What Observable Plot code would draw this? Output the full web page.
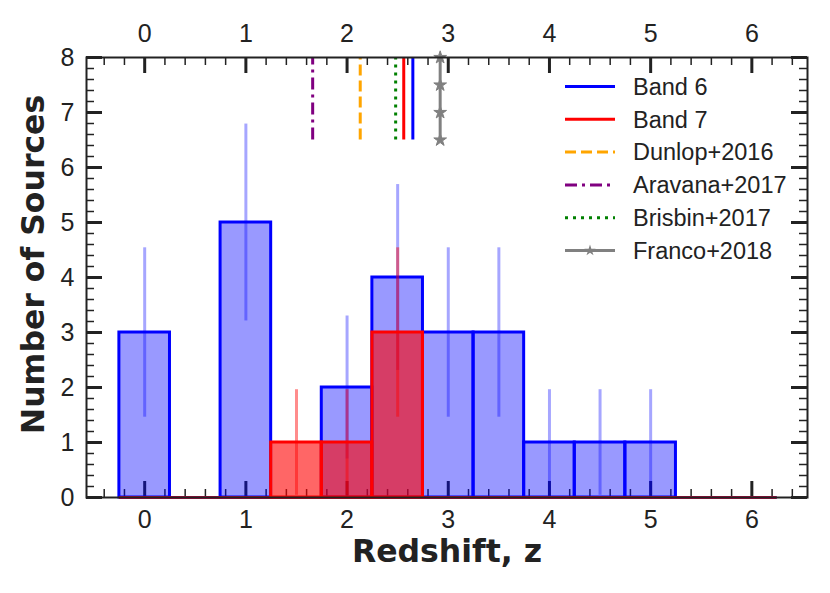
<!DOCTYPE html>
<html>
<head>
<meta charset="utf-8">
<script src="https://cdn.jsdelivr.net/npm/d3@7"></script>
<script src="https://cdn.jsdelivr.net/npm/@observablehq/plot@0.6"></script>
<style>
  html, body { margin: 0; padding: 0; background: #fff; }
  #wrap { position: relative; width: 830px; height: 593px; }
  #legend { position: absolute; left: 0; top: 0; pointer-events: none; }
</style>
</head>
<body>
<div id="wrap"></div>
<script>
// ---- data ----
const binCenters = [0, 0.5, 1, 1.5, 2, 2.5, 3, 3.5, 4, 4.5, 5, 5.5, 6];
const binWidth = 0.5;
const band6Counts = [3, 0, 5, 0, 2, 4, 3, 3, 1, 1, 1, 0, 0];
const band6Err    = [1.54, 0, 1.79, 0, 1.3, 1.69, 1.54, 1.54, 0.96, 0.96, 0.96, 0, 0];
const band7Counts = [0, 0, 0, 1, 1, 3, 0, 0, 0, 0, 0, 0, 0];
const band7Err    = [0, 0, 0, 0.96, 0.96, 1.54, 0, 0, 0, 0, 0, 0, 0];

const medianNames  = ["Band 6", "Band 7", "Dunlop+2016", "Aravana+2017", "Brisbin+2017", "Franco+2018"];
const medianZ      = [2.65, 2.56, 2.13, 1.66, 2.48, 2.92];
const medianColors = ["#0000ff", "#ff0000", "#ffa500", "#800080", "#008000", "#808080"];
const medianDash   = [null, null, "11,5", "12,5,3,5", "3,5", null];
const medianTop = 8, medianBottom = 6.5;
const francoMarkers = [6.5, 7, 7.5, 8];

const xTickLabels = [0, 1, 2, 3, 4, 5, 6];
const yTickLabels = [0, 1, 2, 3, 4, 5, 6, 7, 8];
const xMinor = d3.range(-2, 33).filter(i => i % 5 !== 0).map(i => i / 5);
const yMinor = d3.range(0, 41).filter(i => i % 5 !== 0).map(i => i / 5);

// ---- tables ----
const b6 = binCenters.map((z, i) => ({z, x1: z - binWidth/2, x2: z + binWidth/2, n: band6Counts[i], e: band6Err[i]}));
const b7 = binCenters.map((z, i) => ({z, x1: z - binWidth/2, x2: z + binWidth/2, n: band7Counts[i], e: band7Err[i]}));
const meds = medianNames.map((name, i) => ({name, z: medianZ[i], color: medianColors[i], dash: medianDash[i]}));
const edgeMin = d3.min(b6, d => d.x1), edgeMax = d3.max(b6, d => d.x2);

const W = 830, H = 593;
const mL = 86, mR = 23, mT = 57, mB = 96;
const innerW = W - mL - mR, innerH = H - mT - mB;
const ink = "#222";
const tickFont = "Liberation Sans";
const titleFont = "DejaVu Sans";
const tickFontSize = 25;

const majorLen = 16, minorLen = 8;

const marks = [
  // ticks (inward)
  Plot.tickX(xTickLabels, {x: d => d, insetTop: innerH - majorLen, stroke: ink, strokeWidth: 3}),
  Plot.tickX(xTickLabels, {x: d => d, insetBottom: innerH - majorLen, stroke: ink, strokeWidth: 3}),
  Plot.tickX(xMinor, {x: d => d, insetTop: innerH - minorLen, stroke: ink, strokeWidth: 1.5}),
  Plot.tickX(xMinor, {x: d => d, insetBottom: innerH - minorLen, stroke: ink, strokeWidth: 1.5}),
  Plot.tickY(yTickLabels, {y: d => d, insetRight: innerW - majorLen, stroke: ink, strokeWidth: 3}),
  Plot.tickY(yTickLabels, {y: d => d, insetLeft: innerW - majorLen, stroke: ink, strokeWidth: 3}),
  Plot.tickY(yMinor, {y: d => d, insetRight: innerW - minorLen, stroke: ink, strokeWidth: 1.5}),
  Plot.tickY(yMinor, {y: d => d, insetLeft: innerW - minorLen, stroke: ink, strokeWidth: 1.5}),

  // Band 6 histogram
  Plot.rectY(b6.filter(d => d.n > 0), {x1: "x1", x2: "x2", y: "n", fill: "#0000ff", fillOpacity: 0.4, stroke: "#0000ff", strokeWidth: 3}),
  Plot.ruleX(b6.filter(d => d.n > 0), {x: "z", y1: d => d.n - d.e, y2: d => d.n + d.e, stroke: "#0000ff", strokeOpacity: 0.35, strokeWidth: 3}),
  Plot.ruleY([0], {x1: edgeMin, x2: edgeMax, stroke: "#0000ff", strokeWidth: 3}),

  // Band 7 histogram
  Plot.rectY(b7.filter(d => d.n > 0), {x1: "x1", x2: "x2", y: "n", fill: "#ff0000", fillOpacity: 0.6, stroke: "#ff0000", strokeWidth: 3}),
  Plot.ruleX(b7.filter(d => d.n > 0), {x: "z", y1: d => d.n - d.e, y2: d => d.n + d.e, stroke: "#ff0000", strokeOpacity: 0.45, strokeWidth: 3}),
  Plot.ruleY([0], {x1: edgeMin, x2: edgeMax, stroke: "#ff0000", strokeWidth: 2.5}),

  // median redshift lines
  ...meds.map(m => Plot.ruleX([m], {x: "z", y1: medianBottom, y2: medianTop, stroke: m.color, strokeWidth: 3, strokeDasharray: m.dash})),
  Plot.dot(francoMarkers, {x: medianZ[5], y: d => d, symbol: d3.symbolStar, r: 4, fill: "#808080", stroke: "#808080", strokeWidth: 1}),

  Plot.frame({stroke: ink, strokeWidth: 2}),

  // tick labels
  Plot.text(xTickLabels, {x: d => d, frameAnchor: "bottom", lineAnchor: "top", dy: 13, text: d => String(d), fontSize: tickFontSize, fontFamily: tickFont, fill: ink}),
  Plot.text(xTickLabels, {x: d => d, frameAnchor: "top", lineAnchor: "bottom", dy: -16, text: d => String(d), fontSize: tickFontSize, fontFamily: tickFont, fill: ink}),
  Plot.text(yTickLabels, {y: d => d, frameAnchor: "left", textAnchor: "end", dx: -12, text: d => String(d), fontSize: tickFontSize, fontFamily: tickFont, fill: ink}),

  // axis titles
  Plot.text(["Redshift, z"], {frameAnchor: "bottom", textAnchor: "middle", dy: 64, fontSize: 31.5, fontWeight: "bold", fontFamily: titleFont, fill: ink}),
  Plot.text(["Number of Sources"], {frameAnchor: "left", textAnchor: "middle", dx: -53, dy: -13, rotate: -90, fontSize: 31.5, fontWeight: "bold", fontFamily: titleFont, fill: ink})
];

const chart = Plot.plot({
  width: W, height: H,
  marginLeft: mL, marginRight: mR, marginTop: mT, marginBottom: mB,
  x: {domain: [-0.575, 6.55], axis: null},
  y: {domain: [0, 8], axis: null},
  style: {fontFamily: tickFont, background: "#fff", color: ink, overflow: "visible"},
  marks
});
document.getElementById("wrap").appendChild(chart);

// ---- legend (inside plot, upper right) ----
const lg = d3.select("#wrap").append("svg").attr("id", "legend").attr("width", W).attr("height", H);
const rowY0 = 86.5, rowStep = 32.8, lineX1 = 565, lineX2 = 615, textX = 633;
meds.forEach((m, i) => {
  const y = rowY0 + i * rowStep;
  lg.append("line").attr("x1", lineX1).attr("x2", lineX2).attr("y1", y).attr("y2", y)
    .attr("stroke", m.color).attr("stroke-width", 3)
    .attr("stroke-dasharray", m.dash);
  if (m.name === "Franco+2018") {
    lg.append("path").attr("d", d3.symbol(d3.symbolStar, 40)())
      .attr("transform", `translate(${(lineX1 + lineX2) / 2},${y})`).attr("fill", m.color);
  }
  lg.append("text").attr("x", textX).attr("y", y).attr("dy", "0.35em")
    .attr("font-family", tickFont).attr("font-size", 23.5).attr("fill", ink).text(m.name);
});
</script>
</body>
</html>
